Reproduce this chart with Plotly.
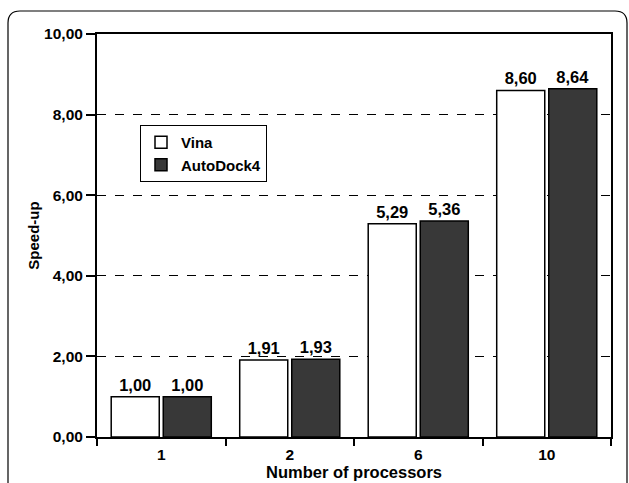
import plotly.graph_objects as go

categories = ["1", "2", "6", "10"]
vina = [1.00, 1.91, 5.29, 8.60]
autodock4 = [1.00, 1.93, 5.36, 8.64]
y_ticks = [0, 2, 4, 6, 8, 10]
x_title = "Number of processors"
y_title = "Speed-up"

W, H = 629, 483
L, R, T, B = 97, 18, 34, 46
pw, ph = W - L - R, H - T - B

def px(x):
    return (x - L) / pw

def py(y):
    return (H - B - y) / ph

font = "Liberation Sans, Arial, sans-serif"
lbl_font = dict(family=font, size=16.5, color="black", weight="bold")

fig = go.Figure()
fig.add_bar(name="Vina", x=categories, y=vina,
            marker=dict(color="white", line=dict(color="black", width=1.5)),
            texttemplate="%{y:.2f}", textposition="outside",
            textfont=lbl_font, cliponaxis=False)
fig.add_bar(name="AutoDock4", x=categories, y=autodock4,
            marker=dict(color="#383838", line=dict(color="black", width=1.5)),
            texttemplate="%{y:.2f}", textposition="outside",
            textfont=lbl_font, cliponaxis=False)

# outer rounded frame
x0, x1, y0, y1, r = 8, 627, 11, 520, 12
path = (f"M {px(x0)},{py(y1)} L {px(x0)},{py(y0 + r)} "
        f"Q {px(x0)},{py(y0)} {px(x0 + r)},{py(y0)} "
        f"L {px(x1 - r)},{py(y0)} Q {px(x1)},{py(y0)} {px(x1)},{py(y0 + r)} "
        f"L {px(x1)},{py(y1)}")

fig.update_layout(
    width=W, height=H,
    margin=dict(l=L, r=R, t=T, b=B, autoexpand=False),
    paper_bgcolor="white", plot_bgcolor="white",
    separators=",.",
    barmode="group", bargap=0.19, bargroupgap=0.077,
    font=dict(family=font, size=15, color="black"),
    showlegend=True,
    legend=dict(x=px(140), y=py(125), xanchor="left", yanchor="top",
                bordercolor="black", borderwidth=1, bgcolor="white",
                font=dict(family=font, size=15, color="black", weight="bold"),
                itemwidth=30, tracegroupgap=0),
    shapes=[dict(type="path", xref="paper", yref="paper", path=path,
                 line=dict(color="black", width=1.2), layer="above")],
    annotations=[dict(text=x_title, xref="paper", yref="paper",
                      x=0.5, y=py(472.5), xanchor="center", yanchor="middle",
                      showarrow=False,
                      font=dict(family=font, size=16.5, color="black", weight="bold"))],
)
fig.update_xaxes(
    type="category", tickson="boundaries", ticks="outside", ticklen=7,
    tickwidth=1.5, tickcolor="black", showline=True, linecolor="black",
    linewidth=2, mirror=True, showgrid=False, automargin=False,
    ticklabelstandoff=2,
    tickfont=dict(family=font, size=15.5, color="black", weight="bold"),
)
fig.update_yaxes(
    range=[0, 10], tickvals=y_ticks, tickformat=".2f", ticks="outside",
    ticklen=9, tickwidth=1.5, tickcolor="black", showline=True,
    linecolor="black", linewidth=2, mirror=True, automargin=False,
    showgrid=True, gridcolor="black", griddash="dash", gridwidth=1,
    zeroline=False,
    tickfont=dict(family=font, size=15.5, color="black", weight="bold"),
    title=dict(text=y_title, standoff=1,
               font=dict(family=font, size=15, color="black", weight="bold")),
)

fig.write_html("out.html", config={"displayModeBar": False},
               post_script="document.body.style.margin='0';document.body.style.overflow='hidden';")
